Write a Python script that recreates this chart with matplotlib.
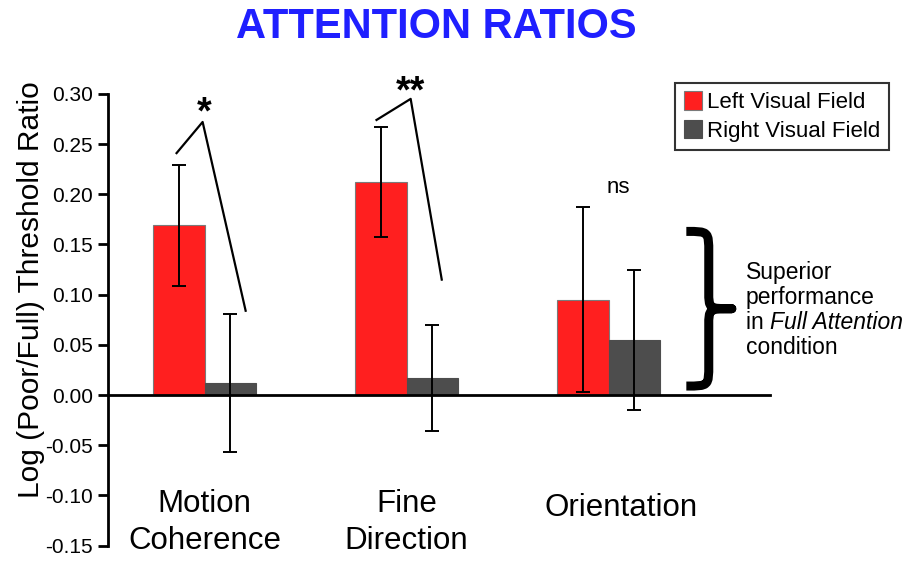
import numpy as np
from matplotlib import pyplot as plt
from matplotlib.path import Path
from matplotlib.patches import PathPatch

plt.rcParams["font.family"] = ["Liberation Sans", "DejaVu Sans"]
plt.rcParams["axes.unicode_minus"] = False

categories = ["Motion\nCoherence", "Fine\nDirection", "Orientation"]
left_vals = [0.169, 0.212, 0.095]
left_err = [0.060, 0.055, 0.092]
right_vals = [0.012, 0.017, 0.055]
right_err = [0.069, 0.053, 0.070]
y_ticks = [-0.15, -0.10, -0.05, 0.00, 0.05, 0.10, 0.15, 0.20, 0.25, 0.30]

x = np.arange(len(categories))
width = 0.255

fig = plt.figure(figsize=(9.05, 5.62), dpi=100)
ax = fig.add_axes([0.119, 0.029, 0.732, 0.804])

ax.bar(x - width / 2, left_vals, width, color="#ff1f1f", edgecolor="#7a7a7a",
       linewidth=0.8, label="Left Visual Field", zorder=2)
ax.bar(x + width / 2, right_vals, width, color="#4d4d4d", edgecolor="#4d4d4d",
       linewidth=0.8, label="Right Visual Field", zorder=2)
ax.errorbar(x - width / 2, left_vals, yerr=left_err, fmt="none", ecolor="black",
            elinewidth=1.4, capsize=5, capthick=1.4, zorder=3)
ax.errorbar(x + width / 2, right_vals, yerr=right_err, fmt="none", ecolor="black",
            elinewidth=1.4, capsize=5, capthick=1.4, zorder=3)

ax.set_xlim(-0.48, 2.8)
ax.set_ylim(-0.15, 0.30)
ax.set_yticks(y_ticks)
ax.set_yticklabels([f"{v:.2f}" for v in y_ticks], fontsize=15)
ax.set_xticks([])
ax.spines["top"].set_visible(False)
ax.spines["right"].set_visible(False)
ax.spines["bottom"].set_position(("data", 0))
ax.spines["bottom"].set_linewidth(2)
ax.spines["left"].set_linewidth(2)
ax.tick_params(axis="y", direction="out", length=7, width=2)
ax.set_ylabel("Log (Poor/Full) Threshold Ratio", fontsize=21.5)
ax.yaxis.set_label_coords(-0.095, 0.566)

# category labels under the zero line
ax.text(0.0, -0.1265, categories[0], ha="center", va="center", fontsize=22.5,
        linespacing=1.3)
ax.text(1.0, -0.1265, categories[1], ha="center", va="center", fontsize=22.5,
        linespacing=1.3)
ax.text(2.06, -0.112, categories[2], ha="center", va="center", fontsize=22.5)

# significance markers
ax.plot([-0.139, -0.01, 0.203], [0.241, 0.272, 0.084], color="black", lw=1.6,
        clip_on=False)
ax.text(0.0, 0.280, "*", ha="center", va="center", fontsize=27,
        fontweight="bold")
ax.plot([0.851, 1.02, 1.174], [0.274, 0.295, 0.115], color="black", lw=1.6,
        clip_on=False)
ax.text(1.02, 0.301, "**", ha="center", va="center", fontsize=27,
        fontweight="bold", clip_on=False)
ax.text(2.05, 0.207, "ns", ha="center", va="center", fontsize=16)

# curly brace drawn as a path
x0, xm, xt = 2.385, 2.496, 2.61
ytop, ybot = 0.163, 0.009
ymid = (ytop + ybot) / 2
h = ytop - ybot
verts = [
    (x0, ytop), (xm, ytop), (xm, ytop), (xm, ytop - h * 0.14),
    (xm, ymid + h * 0.11),
    (xm, ymid), (xm, ymid), (xt, ymid),
    (xm, ymid), (xm, ymid), (xm, ymid - h * 0.11),
    (xm, ybot + h * 0.14),
    (xm, ybot), (xm, ybot), (x0, ybot),
]
codes = [Path.MOVETO, Path.CURVE4, Path.CURVE4, Path.CURVE4, Path.LINETO,
         Path.CURVE4, Path.CURVE4, Path.CURVE4,
         Path.CURVE4, Path.CURVE4, Path.CURVE4, Path.LINETO,
         Path.CURVE4, Path.CURVE4, Path.CURVE4]
ax.add_patch(PathPatch(Path(verts, codes), facecolor="none", edgecolor="black",
                       lw=6.5, capstyle="butt", joinstyle="round",
                       clip_on=False))

note_x = 2.68
ax.text(note_x, 0.1225, "Superior", ha="left", va="center", fontsize=16.5,
        clip_on=False)
ax.text(note_x, 0.0976, "performance", ha="left", va="center", fontsize=16.5,
        clip_on=False)
t_in = ax.text(note_x, 0.0727, "in ", ha="left", va="center", fontsize=16.5,
               clip_on=False)
ax.annotate("Full Attention", xy=(1, 0.5), xycoords=t_in, ha="left",
            va="center", fontsize=16.5, style="italic", annotation_clip=False)
ax.text(note_x, 0.0478, "condition", ha="left", va="center", fontsize=16.5,
        clip_on=False)

ax.legend(loc="upper left", bbox_to_anchor=(0.857, 1.024), fontsize=16,
          frameon=True, fancybox=False, edgecolor="black", handlelength=0.8,
          handleheight=0.9, handletextpad=0.25, borderpad=0.38,
          labelspacing=0.3, borderaxespad=0)
leg = ax.get_legend()
leg.get_frame().set_linewidth(1.5)

fig.text(0.482, 0.952, "ATTENTION RATIOS", ha="center", va="center",
         fontsize=30, fontweight="bold", color="#1f1fff")

fig.savefig("out.png", dpi=100)
